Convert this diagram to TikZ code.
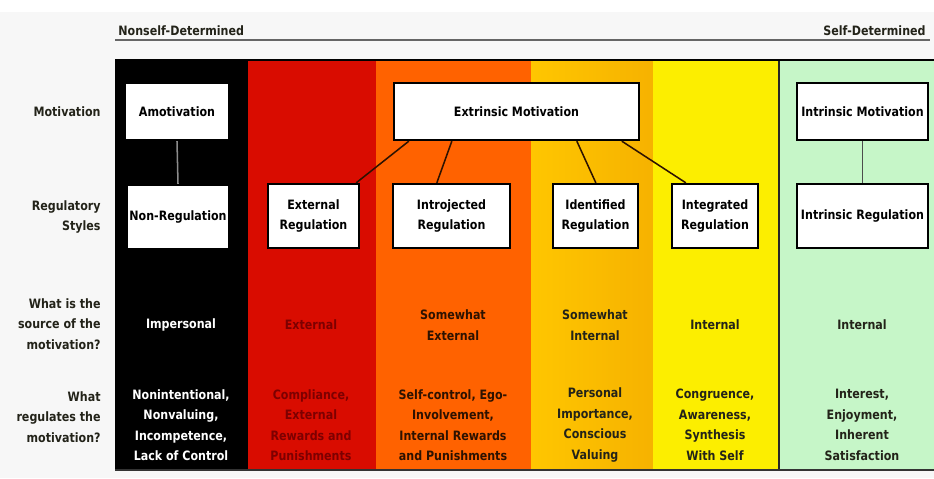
\documentclass[tikz,border=0pt]{standalone}
\usepackage{fontspec}
\newfontfamily\chartfont{DejaVu Sans}[FakeStretch=0.86]
\usetikzlibrary{calc}

\definecolor{pagegray}{RGB}{247,247,247}
\definecolor{bandred}{RGB}{217,12,0}
\definecolor{bandorange}{RGB}{255,98,0}
\definecolor{bandamberA}{RGB}{255,198,0}
\definecolor{bandamberB}{RGB}{246,178,0}
\definecolor{bandyellow}{RGB}{252,238,0}
\definecolor{bandgreen}{RGB}{198,246,200}
\definecolor{textred}{RGB}{125,0,0}
\definecolor{textbrown}{RGB}{45,18,0}
\definecolor{textdark}{RGB}{35,35,25}

\tikzset{
	chart/.style={font=\chartfont\bfseries\fontsize{11}{17.5}\selectfont},
	regbox/.style={chart, draw=black, line width=2pt, fill=white, align=center, inner sep=1pt},
	rowlabel/.style={chart, anchor=east, align=right, text=textdark, inner sep=1pt},
	coltext/.style={chart, align=center},
	link/.style={line width=1.3pt, draw=textbrown}
}

\begin{document}
\begin{tikzpicture}[x=0.03cm, y=-0.03cm]
			\useasboundingbox (0,0) rectangle (934,478);
			% page
			\fill[white] (0,0) rectangle (934,478);
			\fill[pagegray] (0,12) rectangle (934,478);
			% header
			\draw[line width=1.6pt, black!60] (115,40) -- (930,40);
			\node[chart, anchor=base west, text=textdark, inner sep=1pt] (nonself) at (117,36) {Nonself-Determined};
			\node[chart, anchor=base east, text=textdark, inner sep=1pt] (selfdet) at (927,36) {Self-Determined};
			% colour bands
			\fill[black] (115,60) rectangle (248,470);
			\fill[bandred] (248,60) rectangle (376,470);
			\fill[bandorange] (376,60) rectangle (531,470);
			\shade[left color=bandamberA, right color=bandamberB] (531,60) rectangle (653,470);
			\fill[bandyellow] (653,60) rectangle (779,470);
			\fill[bandgreen] (779,60) rectangle (934,470);
			\draw[line width=1pt, black!85] (779,60) -- (779,470);
			\draw[line width=1.4pt, black] (115,60) -- (934,60);
			\draw[line width=1.6pt, black!80] (115,470) -- (934,470);
			% row labels
			\node[rowlabel] (lmot) at (102,112) {Motivation};
			\node[rowlabel] (lreg) at (102,217) {Regulatory\\Styles};
			\node[rowlabel] (lsrc) at (102,324) {What is the\\source of the\\motivation?};
			\node[rowlabel] (lwhat) at (102,417) {What\\regulates the\\motivation?};
			% motivation boxes
			\node[regbox, minimum width=104*0.03cm, minimum height=57*0.03cm] (amot) at (177,111.5) {Amotivation};
			\node[regbox, minimum width=245*0.03cm, minimum height=57*0.03cm] (extmot) at (516.5,111.5) {Extrinsic Motivation};
			\node[regbox, minimum width=131*0.03cm, minimum height=57*0.03cm] (intmot) at (862.5,111.5) {Intrinsic Motivation};
			% regulatory style boxes
			\node[regbox, minimum width=102*0.03cm, minimum height=64*0.03cm] (nonreg) at (178,217) {Non-Regulation};
			\node[regbox, minimum width=91*0.03cm, minimum height=64*0.03cm] (extreg) at (313.5,216) {External\\Regulation};
			\node[regbox, minimum width=117*0.03cm, minimum height=64*0.03cm] (intro) at (451.5,216) {Introjected\\Regulation};
			\node[regbox, minimum width=85*0.03cm, minimum height=64*0.03cm] (ident) at (595.5,216) {Identified\\Regulation};
			\node[regbox, minimum width=86*0.03cm, minimum height=64*0.03cm] (integ) at (715,216) {Integrated\\Regulation};
			\node[regbox, minimum width=131*0.03cm, minimum height=64*0.03cm] (intreg) at (862.5,216) {Intrinsic Regulation};
			% links
			\draw[line width=1.3pt, black!45] (amot.south) -- (nonreg.north);
			\draw[link] ($(extmot.south west)+(16,0)$) -- ($(extreg.north east)+(-4,0)$);
			\draw[link] ($(extmot.south west)+(59,0)$) -- ($(intro.north west)+(45,0)$);
			\draw[link] ($(extmot.south west)+(184,0)$) -- ($(ident.north west)+(44,0)$);
			\draw[link] ($(extmot.south west)+(229,0)$) -- ($(integ.north west)+(15,0)$);
			\draw[line width=1.3pt, black!70] (intmot.south) -- (intreg.north);
			% source of the motivation
			\node[coltext, text=white] (srcA) at (181,325) {Impersonal};
			\node[coltext, text=textred] (srcB) at (311,325) {External};
			\node[coltext, text=textbrown] (srcC) at (453,325) {Somewhat\\External};
			\node[coltext, text=textdark] (srcD) at (595,325) {Somewhat\\Internal};
			\node[coltext, text=textdark] (srcE) at (715,325) {Internal};
			\node[coltext, text=textdark] (srcF) at (862,325) {Internal};
			% what regulates the motivation
			\node[coltext, text=white] (regA) at (181,425) {Nonintentional,\\Nonvaluing,\\Incompetence,\\Lack of Control};
			\node[coltext, text=textred] (regB) at (311,425) {Compliance,\\External\\Rewards and\\Punishments};
			\node[coltext, text=textbrown] (regC) at (453,425) {Self-control, Ego-\\Involvement,\\Internal Rewards\\and Punishments};
			\node[coltext, text=textdark] (regD) at (595,425) {Personal\\Importance,\\Conscious\\Valuing};
			\node[coltext, text=textdark] (regE) at (715,425) {Congruence,\\Awareness,\\Synthesis\\With Self};
			\node[coltext, text=textdark] (regF) at (862,425) {Interest,\\Enjoyment,\\Inherent\\Satisfaction};
\end{tikzpicture}
\end{document}
